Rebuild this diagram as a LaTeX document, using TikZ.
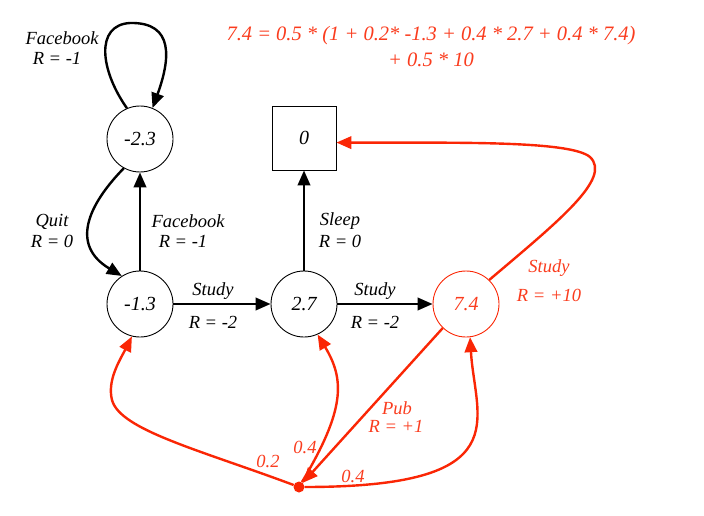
\documentclass[tikz,border=0pt]{standalone}
\usepackage{fontspec}
\setmainfont{Liberation Serif}
\newfontfamily\tms{Liberation Serif}
\usetikzlibrary{arrows.meta}
\definecolor{myred}{RGB}{250,38,5}
\definecolor{txtred}{RGB}{250,60,30}
\begin{document}
\begin{tikzpicture}[x=1pt,y=-1pt,
  state/.style={circle,draw,line width=0.9pt,minimum size=66pt,inner sep=0pt,font=\tms\itshape\fontsize{20}{22}\selectfont},
  term/.style={rectangle,draw,line width=0.9pt,minimum size=64pt,inner sep=0pt,font=\tms\itshape\fontsize{20}{22}\selectfont},
  arr/.style={line width=2.4pt,-{Triangle[length=15pt,width=12.5pt]}},
  rarr/.style={arr,draw=myred},
  lbl/.style={font=\tms\itshape\fontsize{18.5}{20}\selectfont,inner sep=0pt},
  rlbl/.style={lbl,text=txtred},
  eq/.style={font=\tms\itshape\fontsize{20.5}{22}\selectfont,text=txtred,inner sep=0pt}]
\useasboundingbox (0,0) rectangle (704,516);

\node[state] (s1) at (140,139) {-2.3};
\node[state] (s2) at (140,304) {-1.3};
\node[state] (s3) at (304,304) {2.7};
\node[state,draw=myred,text=txtred] (s4) at (466,304) {7.4};
\node[term] (sq) at (304,138) {0};
\node[circle,fill=myred,minimum size=11pt,inner sep=0pt] (dot) at (299,487) {};

% black edges
\draw[arr] (s1.113) .. controls (100,70) and (95,25) .. (130,23) .. controls (175,22) and (170,60) .. (s1.68);
\draw[arr] (s1.-119) .. controls (88,205) and (70,245) .. (s2.123);
\draw[arr] (s2) -- (s1);
\draw[arr] (s2) -- (s3);
\draw[arr] (s3) -- (sq);
\draw[arr] (s3) -- (s4);

% red edges
\draw[rarr] (s4.46) .. controls (560,220) and (612,178) .. (590,157) .. controls (570,140) and (450,143) .. (sq.-8);
\draw[rarr] (s4.-134) -- (dot);
\draw[rarr] (dot) .. controls (200,450) and (120,430) .. (112,400) .. controls (107,380) and (120,360) .. (s2.-104);
\draw[rarr] (dot) .. controls (345,410) and (345,380) .. (s3.-66);
\draw[rarr] (dot) .. controls (520,487) and (475,420) .. (s4.-83);

% labels
\node[lbl] (l1a) at (62,38) {Facebook};
\node[lbl] (l1b) at (57,58) {R = -1};
\node[lbl] (l2a) at (52,222) {Quit};
\node[lbl] (l2b) at (52,241) {R = 0};
\node[lbl] (l3a) at (188,221) {Facebook};
\node[lbl] (l3b) at (183,241) {R = -1};
\node[lbl] (l4a) at (213,291) {Study};
\node[lbl] (l4b) at (213,322) {R = -2};
\node[lbl] (l5a) at (340,221) {Sleep};
\node[lbl] (l5b) at (340,241) {R = 0};
\node[lbl] (l6a) at (375,291) {Study};
\node[lbl] (l6b) at (375,322) {R = -2};
\node[rlbl] (l7a) at (549,268) {Study};
\node[rlbl] (l7b) at (549,295) {R = +10};
\node[rlbl] (l8a) at (397,408) {Pub};
\node[rlbl] (l8b) at (396,426) {R = +1};
\node[rlbl] (p1) at (268,461) {0.2};
\node[rlbl] (p2) at (305,447) {0.4};
\node[rlbl] (p3) at (353,476) {0.4};

\node[eq] (e1) at (431,36) {7.4 = 0.5 * (1 + 0.2* -1.3 + 0.4 * 2.7 + 0.4 * 7.4)};
\node[eq] (e2) at (431,60) {+ 0.5 * 10};
\end{tikzpicture}
\end{document}
